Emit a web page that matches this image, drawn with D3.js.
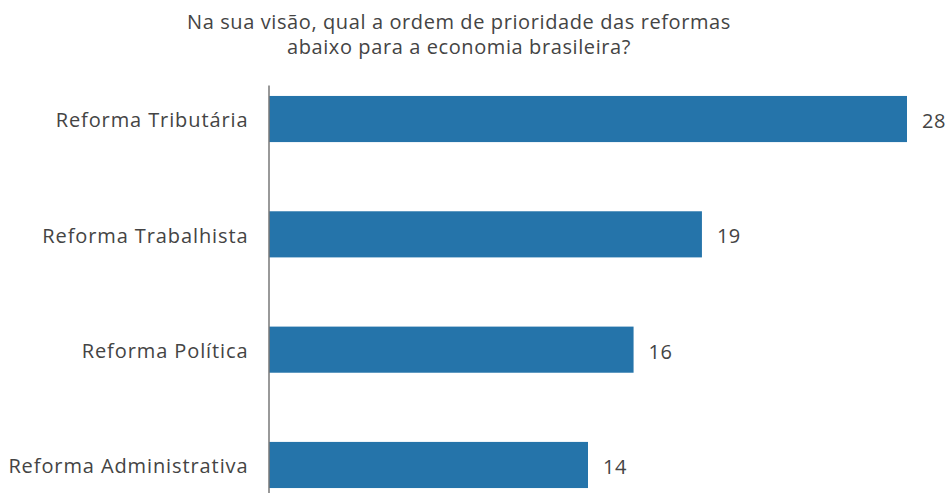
<!DOCTYPE html>
<html>
<head>
<meta charset="utf-8">
<script src="https://cdn.jsdelivr.net/npm/d3@7"></script>
<style>
    body { margin: 0; background: #fff; }
    svg text { font-family: "Open Sans", sans-serif; fill: #444; }
</style>
</head>
<body>
<div id="chart"></div>
<script>
const titleLines = ["Na sua visão, qual a ordem de prioridade das reformas", "abaixo para a economia brasileira?"];
const categories = ["Reforma Tributária", "Reforma Trabalhista", "Reforma Política", "Reforma Administrativa"];
const values = [28, 19, 16, 14];

function init() {
    let width = 950;
    let height = 493;
    let svg = d3.select("#chart")
        .append("svg")
        .attr("width", width)
        .attr("height", height);

    svg.append("text")
        .attr("x", 459)
        .attr("y", 29)
        .attr("text-anchor", "middle")
        .style("font-size", "20px")
        .style("letter-spacing", "0.6px")
        .selectAll("tspan")
        .data(titleLines)
        .join("tspan")
        .attr("x", 459)
        .attr("dy", (d, i) => i == 0 ? 0 : 25)
        .text(d => d);

    let xScale = d3.scaleLinear()
        .domain([0, 28])
        .range([269, 907]);
    let yScale = d3.scaleBand()
        .domain(categories)
        .range([85, 499])
        .paddingInner(0.6)
        .paddingOuter(0.095);

    let data = categories.map((c, i) => ({ name: c, value: values[i] }));

    svg.selectAll("rect.bar")
        .data(data)
        .join("rect")
        .attr("class", "bar")
        .attr("x", xScale(0))
        .attr("y", d => yScale(d.name))
        .attr("width", d => xScale(d.value) - xScale(0))
        .attr("height", yScale.bandwidth())
        .attr("fill", "#2574aa");

    svg.selectAll("text.val")
        .data(data)
        .join("text")
        .attr("class", "val")
        .attr("x", d => xScale(d.value) + 15)
        .attr("y", d => yScale(d.name) + yScale.bandwidth() / 2 + 2)
        .attr("dy", "0.35em")
        .style("font-size", "20px")
        .style("letter-spacing", "0.5px")
        .text(d => d.value);

    let yAxis = svg.append("g")
        .attr("transform", "translate(268.5,0)")
        .call(d3.axisLeft(yScale).tickSize(0).tickPadding(20));
    yAxis.select(".domain").attr("stroke", "#777").attr("stroke-width", 1.5);
    yAxis.selectAll("text")
        .attr("dy", "0.42em")
        .style("font-family", "'Open Sans', sans-serif")
        .style("font-size", "20px")
        .style("letter-spacing", "0.9px")
        .attr("fill", "#444");
}

window.addEventListener('load', init);
</script>
</body>
</html>
